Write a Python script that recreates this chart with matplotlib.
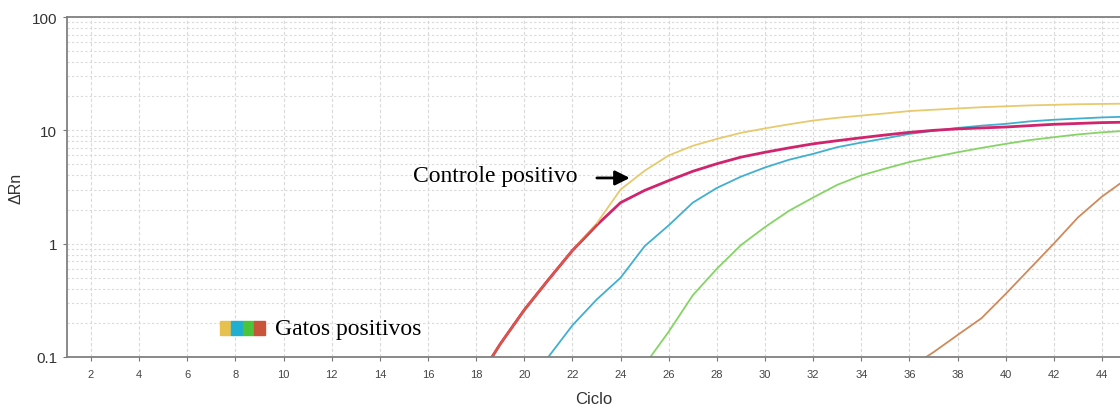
import numpy as np
import matplotlib.pyplot as plt
from matplotlib.patches import Rectangle

# Amplification curves (delta Rn per cycle)
cycles_yellow = [18, 19, 20, 21, 22, 23, 24, 25, 26, 27, 28, 29, 30, 31, 32, 33, 34, 35, 36, 37, 38, 39, 40, 41, 42, 43, 44, 45]
drn_yellow = [0.06, 0.13, 0.26, 0.48, 0.87, 1.5, 3.0, 4.4, 6.0, 7.3, 8.4, 9.5, 10.4, 11.3, 12.2, 12.9, 13.5, 14.1, 14.8, 15.2, 15.6, 16.0, 16.3, 16.6, 16.8, 17.0, 17.1, 17.2]

cycles_control = [18, 19, 20, 21, 22, 23, 24, 25, 26, 27, 28, 29, 30, 31, 32, 33, 34, 35, 36, 37, 38, 39, 40, 41, 42, 43, 44, 45]
drn_control = [0.06, 0.13, 0.26, 0.48, 0.87, 1.45, 2.3, 2.95, 3.6, 4.35, 5.07, 5.8, 6.4, 7.0, 7.6, 8.1, 8.6, 9.1, 9.6, 10.0, 10.3, 10.5, 10.7, 11.0, 11.3, 11.5, 11.7, 11.8]

cycles_blue = [20, 21, 22, 23, 24, 25, 26, 27, 28, 29, 30, 31, 32, 33, 34, 35, 36, 37, 38, 39, 40, 41, 42, 43, 44, 45]
drn_blue = [0.06, 0.1, 0.19, 0.32, 0.5, 0.95, 1.45, 2.3, 3.1, 3.9, 4.7, 5.5, 6.2, 7.1, 7.8, 8.5, 9.3, 9.9, 10.5, 11.0, 11.4, 12.0, 12.4, 12.7, 13.0, 13.2]

cycles_green = [24, 25, 26, 27, 28, 29, 30, 31, 32, 33, 34, 35, 36, 37, 38, 39, 40, 41, 42, 43, 44, 45]
drn_green = [0.05, 0.085, 0.167, 0.35, 0.6, 0.97, 1.4, 1.95, 2.55, 3.3, 4.0, 4.6, 5.25, 5.8, 6.4, 7.0, 7.6, 8.2, 8.7, 9.2, 9.6, 9.9]

cycles_orange = [36, 37, 38, 39, 40, 41, 42, 43, 44, 45]
drn_orange = [0.08, 0.11, 0.156, 0.22, 0.36, 0.6, 1.0, 1.7, 2.6, 3.7]

x_ticks = list(range(2, 46, 2))
y_ticks = [0.1, 1, 10, 100]
y_tick_labels = ["0.1", "1", "10", "100"]
legend_colors = ["#E6C14E", "#1EAFD3", "#4CC43A", "#C8553A"]

plt.rcParams["font.family"] = ["Liberation Sans", "DejaVu Sans"]

fig = plt.figure(figsize=(11.2, 4.1), dpi=100)
ax = fig.add_axes([0.0598, 0.127, 0.9402, 0.829])

# curves
ax.plot(cycles_green, drn_green, color="#86D466", lw=1.3)
ax.plot(cycles_orange, drn_orange, color="#CF8A5C", lw=1.3)
ax.plot(cycles_blue, drn_blue, color="#41AFCF", lw=1.3)
ax.plot(cycles_control, drn_control, color="#D0246C", lw=2.0)
# early part of the yellow curve sits on the control, giving the red tint
ax.plot(cycles_yellow, drn_yellow, color="#E5C55E", lw=1.3, alpha=0.9)
ax.plot(cycles_control[:6], drn_control[:6], color="#D8413F", lw=1.8, alpha=0.8)

ax.set_yscale("log")
ax.set_xlim(1, 44.75)
ax.set_ylim(0.1, 100)
ax.set_xticks(x_ticks)
ax.set_xticklabels([str(t) for t in x_ticks], fontsize=8, color="#444444")
ax.set_yticks(y_ticks)
ax.set_yticklabels(y_tick_labels, fontsize=11, color="#333333")
ax.yaxis.set_minor_formatter(plt.NullFormatter())
ax.tick_params(axis="y", which="minor", length=0)
ax.tick_params(axis="both", which="major", length=3, color="#777777", pad=4)
ax.tick_params(axis="x", pad=6)

ax.grid(True, which="major", axis="x", color="#dadada", ls=(0, (3, 2)), lw=0.8)
ax.grid(True, which="both", axis="y", color="#dadada", ls=(0, (2, 2)), lw=0.8)
ax.set_axisbelow(True)

for side in ["left", "bottom", "top"]:
    ax.spines[side].set_color("#808080")
    ax.spines[side].set_linewidth(1.3)
ax.spines["right"].set_visible(False)

ax.set_xlabel("Ciclo", fontsize=12, color="#333333", labelpad=8)
ax.set_ylabel("\u0394Rn", fontsize=11.5, color="#333333", labelpad=6)

# annotation for the positive control
serif = ["Liberation Serif", "DejaVu Serif"]
ax.text(15.37, 4.0, "Controle positivo", family=serif, fontsize=17,
        ha="left", va="center", color="black")
ax.annotate("", xy=(24.5, 3.8), xytext=(22.9, 3.8),
            arrowprops=dict(arrowstyle="-|>", color="black", lw=2, mutation_scale=22))

# coloured legend swatches
sw_x = 0.1453
sw_w = 0.0107
for i, c in enumerate(legend_colors):
    ax.add_patch(Rectangle((sw_x + i * sw_w, 0.0647), sw_w, 0.0412,
                           transform=ax.transAxes, color=c, clip_on=False, zorder=5))
ax.text(0.1975, 0.0824, "Gatos positivos", family=serif, fontsize=17,
        transform=ax.transAxes, ha="left", va="center", color="black")

fig.savefig("out.png", dpi=100)
